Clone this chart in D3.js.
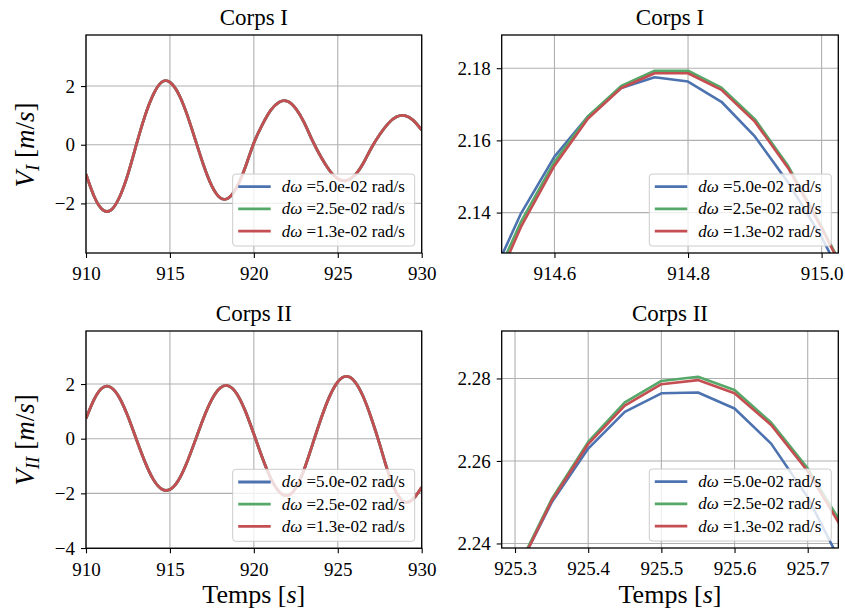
<!DOCTYPE html>
<html><head><meta charset="utf-8">
<script src="https://cdn.jsdelivr.net/npm/d3@7"></script>
<style>body{margin:0;background:#fff} svg{display:block}</style>
</head><body>
<svg id="c" width="845" height="616"></svg>
<script>
// ---------- DATA ----------
const seriesLabels = ["5.0e-02", "2.5e-02", "1.3e-02"];
const seriesColors = ["#4c72b0", "#55a868", "#c44e52"];

const tWide = [910.0,910.5,911.0,911.5,912.0,912.5,913.0,913.5,914.0,914.5,915.0,915.5,916.0,916.5,917.0,917.5,918.0,918.5,919.0,919.5,920.0,920.5,921.0,921.5,922.0,922.5,923.0,923.5,924.0,924.5,925.0,925.5,926.0,926.5,927.0,927.5,928.0,928.5,929.0,929.5,930.0];
// velocity of body I (the three resolutions overlap at this scale)
const vIWide = [-1.00,-1.78,-2.22,-2.22,-1.78,-1.00,0.00,0.96,1.70,2.13,2.13,1.75,1.06,0.19,-0.69,-1.41,-1.81,-1.81,-1.43,-0.75,0.06,0.68,1.17,1.45,1.48,1.23,0.75,0.13,-0.42,-0.87,-1.16,-1.22,-1.05,-0.65,-0.11,0.35,0.72,0.95,0.99,0.83,0.50];
// velocity of body II
const vIIWide = [0.74,1.46,1.87,1.87,1.49,0.81,-0.02,-0.83,-1.48,-1.84,-1.86,-1.53,-0.89,-0.08,0.75,1.44,1.86,1.93,1.63,1.00,0.17,-0.69,-1.44,-1.93,-2.08,-1.80,-1.12,-0.20,0.73,1.53,2.08,2.28,2.10,1.56,0.75,-0.21,-1.23,-1.98,-2.32,-2.20,-1.78];

const tZoomI = [914.50,914.55,914.60,914.65,914.70,914.75,914.80,914.85,914.90,914.95,915.00,915.05];
const vIZoomBlue  = [2.1195,2.1398,2.1555,2.1666,2.1745,2.1775,2.1763,2.1707,2.1611,2.1483,2.1332,2.1150];
const vIZoomGreen = [2.1170,2.1375,2.1541,2.1666,2.1751,2.1793,2.1793,2.1746,2.1659,2.1529,2.1361,2.1180];
const vIZoomRed   = [2.1150,2.1361,2.1530,2.1660,2.1745,2.1786,2.1786,2.1740,2.1652,2.1523,2.1357,2.1175];

const tZoomII = [925.25,925.30,925.35,925.40,925.45,925.50,925.55,925.60,925.65,925.70,925.75];
const vIIZoomBlue  = [2.2130,2.2324,2.2499,2.2630,2.2719,2.2764,2.2766,2.2727,2.2642,2.2512,2.2337];
const vIIZoomGreen = [2.2125,2.2327,2.2507,2.2646,2.2742,2.2794,2.2804,2.2772,2.2693,2.2582,2.2437];
const vIIZoomRed   = [2.2120,2.2322,2.2503,2.2641,2.2734,2.2786,2.2796,2.2764,2.2687,2.2575,2.2428];

const xTicksWide = [910, 915, 920, 925, 930];
const yTicksTL = [-2, 0, 2];
const yTicksBL = [-4, -2, 0, 2];
const xTicksTR = [914.6, 914.8, 915.0];
const yTicksTR = [2.14, 2.16, 2.18];
const xTicksBR = [925.3, 925.4, 925.5, 925.6, 925.7];
const yTicksBR = [2.24, 2.26, 2.28];

// ---------- DRAW ----------
const FONT = "'Liberation Serif', 'DejaVu Serif', serif";
const svg = d3.select("#c");
svg.append("rect").attr("width", 845).attr("height", 616).attr("fill", "#fff");

const panels = [
  {title: "Corps I", box: [86, 35, 421.7, 253], xd: [910, 930], yd: [-3.69, 3.74],
   xt: xTicksWide, yt: yTicksTL, xf: d3.format("d"), yf: d3.format("d"), curve: d3.curveNatural,
   series: [[tWide, vIWide], [tWide, vIWide], [tWide, vIWide]], lw: 2.8},
  {title: "Corps I", box: [501.7, 35, 838.3, 253], xd: [914.521, 915.025], yd: [2.1288, 2.1892],
   xt: xTicksTR, yt: yTicksTR, xf: d3.format(".1f"), yf: d3.format(".2f"), curve: d3.curveLinear,
   series: [[tZoomI, vIZoomBlue], [tZoomI, vIZoomGreen], [tZoomI, vIZoomRed]], lw: 2.6},
  {title: "Corps II", box: [86, 331, 421.7, 548.3], xd: [910, 930], yd: [-4.01, 3.94],
   xt: xTicksWide, yt: yTicksBL, xf: d3.format("d"), yf: d3.format("d"), curve: d3.curveNatural,
   series: [[tWide, vIIWide], [tWide, vIIWide], [tWide, vIIWide]], lw: 2.8},
  {title: "Corps II", box: [501.7, 331, 838.3, 548], xd: [925.2818, 925.7418], yd: [2.2389, 2.2915],
   xt: xTicksBR, yt: yTicksBR, xf: d3.format(".1f"), yf: d3.format(".2f"), curve: d3.curveLinear,
   series: [[tZoomII, vIIZoomBlue], [tZoomII, vIIZoomGreen], [tZoomII, vIIZoomRed]], lw: 2.6}
];

panels.forEach((p, pi) => {
  const [x0, y0, x1, y1] = p.box;
  const W = x1 - x0, H = y1 - y0;
  const x = d3.scaleLinear().domain(p.xd).range([0, W]);
  const y = d3.scaleLinear().domain(p.yd).range([H, 0]);
  const g = svg.append("g").attr("transform", `translate(${x0},${y0})`);
  const clipId = "clip" + pi;
  g.append("clipPath").attr("id", clipId).append("rect").attr("width", W).attr("height", H);

  // grid
  const grid = g.append("g").attr("stroke", "#b0b0b0").attr("stroke-width", 1.1);
  p.xt.forEach(v => grid.append("line").attr("x1", x(v)).attr("x2", x(v)).attr("y1", 0).attr("y2", H));
  p.yt.forEach(v => grid.append("line").attr("y1", y(v)).attr("y2", y(v)).attr("x1", 0).attr("x2", W));

  // lines
  const lg = g.append("g").attr("clip-path", `url(#${clipId})`);
  p.series.forEach((s, si) => {
    const pts = s[0].map((t, i) => [t, s[1][i]]);
    const line = d3.line().x(d => x(d[0])).y(d => y(d[1])).curve(p.curve);
    lg.append("path").datum(pts).attr("d", line).attr("fill", "none")
      .attr("stroke", seriesColors[si]).attr("stroke-width", p.lw).attr("stroke-linejoin", "round");
  });

  // axes
  const ax = g.append("g").attr("transform", `translate(0,${H})`)
    .call(d3.axisBottom(x).tickValues(p.xt).tickFormat(p.xf).tickSize(5).tickPadding(9));
  const ay = g.append("g")
    .call(d3.axisLeft(y).tickValues(p.yt).tickFormat(p.yf).tickSize(5).tickPadding(6));
  [ax, ay].forEach(a => {
    a.select(".domain").remove();
    a.selectAll("line").attr("stroke", "#000").attr("stroke-width", 1.1);
    a.selectAll("text").attr("font-family", FONT).attr("font-size", 19).attr("fill", "#000");
  });

  // frame
  g.append("rect").attr("width", W).attr("height", H).attr("fill", "none")
    .attr("stroke", "#000").attr("stroke-width", 1.3);

  // title
  g.append("text").attr("x", W / 2).attr("y", -10).attr("text-anchor", "middle")
    .attr("font-family", FONT).attr("font-size", 23).text(p.title);

  // legend
  const LW = 182, LH = 72;
  const lx = W - 7 - LW, ly = H - 7 - LH;
  const leg = g.append("g").attr("transform", `translate(${lx},${ly})`);
  leg.append("rect").attr("width", LW).attr("height", LH).attr("rx", 3)
    .attr("fill", "#fff").attr("fill-opacity", 0.8).attr("stroke", "#cccccc").attr("stroke-width", 1);
  seriesLabels.forEach((lab, i) => {
    const ry = 12.7 + i * 22.2;
    leg.append("line").attr("x1", 5.5).attr("x2", 38).attr("y1", ry).attr("y2", ry)
      .attr("stroke", seriesColors[i]).attr("stroke-width", 2.8);
    const t = leg.append("text").attr("x", 49).attr("y", ry + 5.5)
      .attr("font-family", FONT).attr("font-size", 17);
    t.append("tspan").attr("font-style", "italic").text("dω");
    t.append("tspan").text(" =" + lab + " rad/s");
  });
});

// y labels
function yLabel(cy, sub) {
  const t = svg.append("text").attr("transform", `translate(34,${cy}) rotate(-90)`)
    .attr("text-anchor", "middle").attr("font-family", FONT).attr("font-size", 27);
  t.append("tspan").attr("font-style", "italic").text("V");
  t.append("tspan").attr("font-style", "italic").attr("font-size", 19).attr("dy", 5).text(sub);
  t.append("tspan").attr("dy", -5).text(" [");
  t.append("tspan").attr("font-style", "italic").text("m");
  t.append("tspan").text("/");
  t.append("tspan").attr("font-style", "italic").text("s");
  t.append("tspan").text("]");
}
yLabel(145, "I");
yLabel(440, "II");

// x labels
[253.8, 670].forEach(cx => {
  const t = svg.append("text").attr("x", cx).attr("y", 603).attr("text-anchor", "middle")
    .attr("font-family", FONT).attr("font-size", 26);
  t.append("tspan").text("Temps [");
  t.append("tspan").attr("font-style", "italic").text("s");
  t.append("tspan").text("]");
});
</script>
</body></html>
